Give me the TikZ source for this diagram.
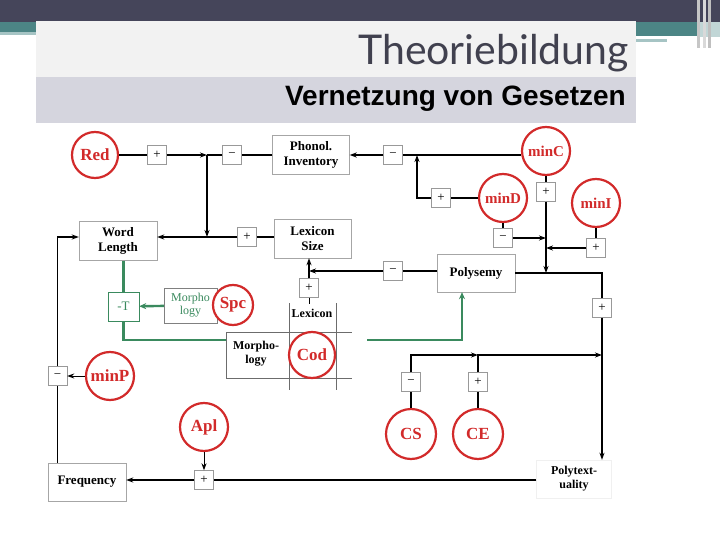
\documentclass[tikz,border=0pt]{standalone}
\usepackage{fontspec}
\setmainfont{Liberation Serif}
\newfontfamily\titlefont{Lato}
\newfontfamily\subfont{Liberation Sans}
\usetikzlibrary{arrows.meta,calc}
\definecolor{redc}{HTML}{D22A2A}
\definecolor{grn}{HTML}{3A8A5E}
\definecolor{darkbar}{HTML}{45455A}
\definecolor{teal1}{HTML}{4C8585}
\definecolor{teal2}{HTML}{A6C4C4}
\definecolor{titlebg}{HTML}{F2F2F2}
\definecolor{subbg}{HTML}{D5D5DE}
\definecolor{titletext}{HTML}{41414F}
\begin{document}
\begin{tikzpicture}[x=1pt,y=-1pt,
  rc/.style={circle, draw=redc, line width=2.2pt, fill=white, minimum size=48pt, inner sep=0pt, text=redc, font=\bfseries\fontsize{17}{17}\selectfont},
  rcs/.style={rc, font=\bfseries\fontsize{15}{15}\selectfont},
  sg/.style={draw=gray!80, fill=white, minimum size=19pt, inner sep=0pt, font=\fontsize{13}{13}\selectfont},
  tb/.style={draw=gray!70, fill=white, align=center, inner sep=0pt, font=\bfseries\fontsize{13}{15}\selectfont},
  ln/.style={line width=1.8pt},
  tn/.style={line width=0.9pt},
  gln/.style={line width=2.4pt, draw=grn},
  arr/.style={-{Stealth[length=7pt,width=5pt]}},
  garr/.style={-{Stealth[length=7pt,width=6pt]}},
  tline/.style={draw=gray!85!black, line width=0.8pt}
]
\useasboundingbox (0,0) rectangle (720,540);
\fill[white] (0,0) rectangle (720,540);
% header decoration
\fill[darkbar] (0,0) rectangle (720,22);
\fill[teal1] (0,22) rectangle (36,32);
\fill[teal2] (0,32) rectangle (36,35);
\fill[teal1] (636,22) rectangle (700,36);
\fill[teal2!70] (700,22) rectangle (720,37);
\fill[teal2] (636,39) rectangle (667,42);
\fill[gray!45] (697,0) rectangle (700,48);
\fill[gray!30] (703,0) rectangle (706,48);
\fill[gray!50] (708,0) rectangle (711,48);
\fill[titlebg] (36,21) rectangle (636,77);
\fill[subbg] (36,77) rectangle (636,123);
\node[anchor=base east, inner sep=0pt, text=titletext, font=\titlefont\fontsize{41}{41}\selectfont] (title) at (629,65) {Theoriebildung};
\node[anchor=base east, inner sep=0pt, font=\subfont\bfseries\fontsize{28}{28}\selectfont] (sub) at (626,106) {Vernetzung von Gesetzen};

% morphology table lines
\draw[tline] (226,332) -- (352,332);
\draw[tline] (226,378) -- (352,378);
\draw[tline] (226,332) -- (226,378);
\draw[tline] (289,303) -- (289,390);
\draw[tline] (336,303) -- (336,390);

% nodes
\node[rc, minimum size=46pt] (red) at (95,155) {Red};
\node[sg] (p1) at (157,155) {+};
\node[sg] (m1) at (232,155) {−};
\node[tb, minimum width=77pt, minimum height=39pt] (phon) at (311,155) {Phonol.\\Inventory};
\node[sg] (m2) at (393,155) {−};
\node[rcs] (minc) at (546,151) {minC};
\coordinate (j1) at (207,155);
\coordinate (j2) at (417,155);
\node[sg] (p2) at (441,198) {+};
\node[rcs] (mind) at (503,198) {minD};
\node[sg] (p3) at (546,192) {+};
\node[rcs] (mini) at (596,203) {minI};
\node[sg] (m3) at (503,238) {−};
\node[sg] (p4) at (596,248) {+};
\node[tb, minimum width=78pt, minimum height=39pt] (wl) at (118,241) {Word\\Length};
\node[sg] (p5) at (247,237) {+};
\node[tb, minimum width=77pt, minimum height=39pt] (ls) at (312.5,238.5) {Lexicon\\Size};
\node[tb, minimum width=78pt, minimum height=38pt] (poly) at (476,273) {Polysemy};
\node[sg] (m4) at (393,271) {−};
\node[sg] (p6) at (309,288) {+};
\node[font=\bfseries\fontsize{12}{12}\selectfont] (lex) at (312,313) {Lexicon};
\node[sg] (p8) at (602,308) {+};
\node[align=center, inner sep=0pt, font=\bfseries\fontsize{12}{14}\selectfont] (morph) at (256,354) {Morpho-\\logy};
\node[rc, minimum size=46pt] (cod) at (312,355) {Cod};
\node[draw=grn, fill=white, minimum width=31pt, minimum height=29pt, inner sep=0pt, text=grn, font=\fontsize{13}{13}\selectfont] (T) at (123.5,306.5) {-T};
\node[draw=gray, fill=white, minimum width=53pt, minimum height=35pt, inner sep=0pt, text=grn, align=center, font=\fontsize{12}{13}\selectfont] (gm) at (190.5,305.5) {Morpho\\logy};
\node[rc, minimum size=40pt] (spc) at (233,305) {Spc};
\node[sg] (m5) at (57.5,376) {−};
\node[rc] (minp) at (110,376) {minP};
\node[rc] (apl) at (204,427) {Apl};
\node[sg] (p7) at (204,480) {+};
\node[tb, minimum width=78pt, minimum height=38pt] (freq) at (87,482) {Frequency};
\node[sg] (m6) at (411,382) {−};
\node[sg] (p9) at (478,382) {+};
\node[rc, minimum size=50pt] (cs) at (411,434) {CS};
\node[rc, minimum size=50pt] (ce) at (478,434) {CE};
\node[draw=gray!12, fill=white, minimum width=75pt, minimum height=38pt, align=center, inner sep=0pt, font=\bfseries\fontsize{12}{14}\selectfont] (pt) at (574,479) {Polytext-\\uality};
\coordinate (c1) at (478,355);
\coordinate (g1) at (123.5,340);
\coordinate (g2) at (226,340);
\coordinate (g3) at (367,340);
\coordinate (g4) at (462,340);

% connectors row 1
\draw[ln] (red) -- (p1);
\draw[ln,arr] (p1) -- (j1);
\draw[ln] (phon) -- (m1);
\draw[ln] (m1) -- (j1);
\draw[ln,arr] (j1) -- (j1 |- p5);
\draw[ln] (minc.west |- m2) -- (m2);
\draw[ln,arr] (m2) -- (phon);
\draw[ln] (mind) -- (p2);
\draw[ln,arr] (p2) -| (j2);
% right cluster
\draw[ln] (minc) -- (p3);
\draw[ln,arr] (p3) -- (p3 |- poly.east);
\draw[ln] (mind) -- (m3);
\draw[ln,arr] (m3) -- (m3 -| p3);
\draw[ln] (mini) -- (p4);
\draw[ln,arr] (p4) -- (p4 -| p3);
\draw[ln] (poly.east) -| (p8);
\draw[ln,arr] (p8) -- (p8 |- pt.north);
% lexicon size row
\draw[ln] (ls.west |- p5) -- (p5);
\draw[ln,arr] (p5) -- (wl.east |- p5);
\draw[ln] (poly.west |- m4) -- (m4);
\draw[ln,arr] (m4) -- (p6 |- m4);
\draw[ln,arr] (p6) -- (p6 |- ls.south);
\draw[tn] (p6.south) -- ++(0,6);
% green
\draw[gln,garr] (gm) -- (T);
\draw[gln] (wl.south -| T) -- (T);
\draw[gln] (T) -- (g1) -- (g2);
\draw[gln,garr] (g3) -- (g4) -- (g4 |- poly.south);
% left
\draw[ln] (freq.north -| m5) -- (m5);
\draw[ln,arr] (m5) |- (wl.west |- p5);
\draw[tn,arr] (minp) -- (m5);
% bottom
\draw[tn,arr] (apl) -- (p7);
\draw[ln] (pt.west |- p7) -- (p7);
\draw[ln,arr] (p7) -- (freq.east |- p7);
\draw[ln] (cs) -- (m6);
\draw[ln,arr] (m6) |- (c1);
\draw[ln] (ce) -- (p9);
\draw[ln,arr] (p9) |- (p8 |- c1);
\end{tikzpicture}
\end{document}
